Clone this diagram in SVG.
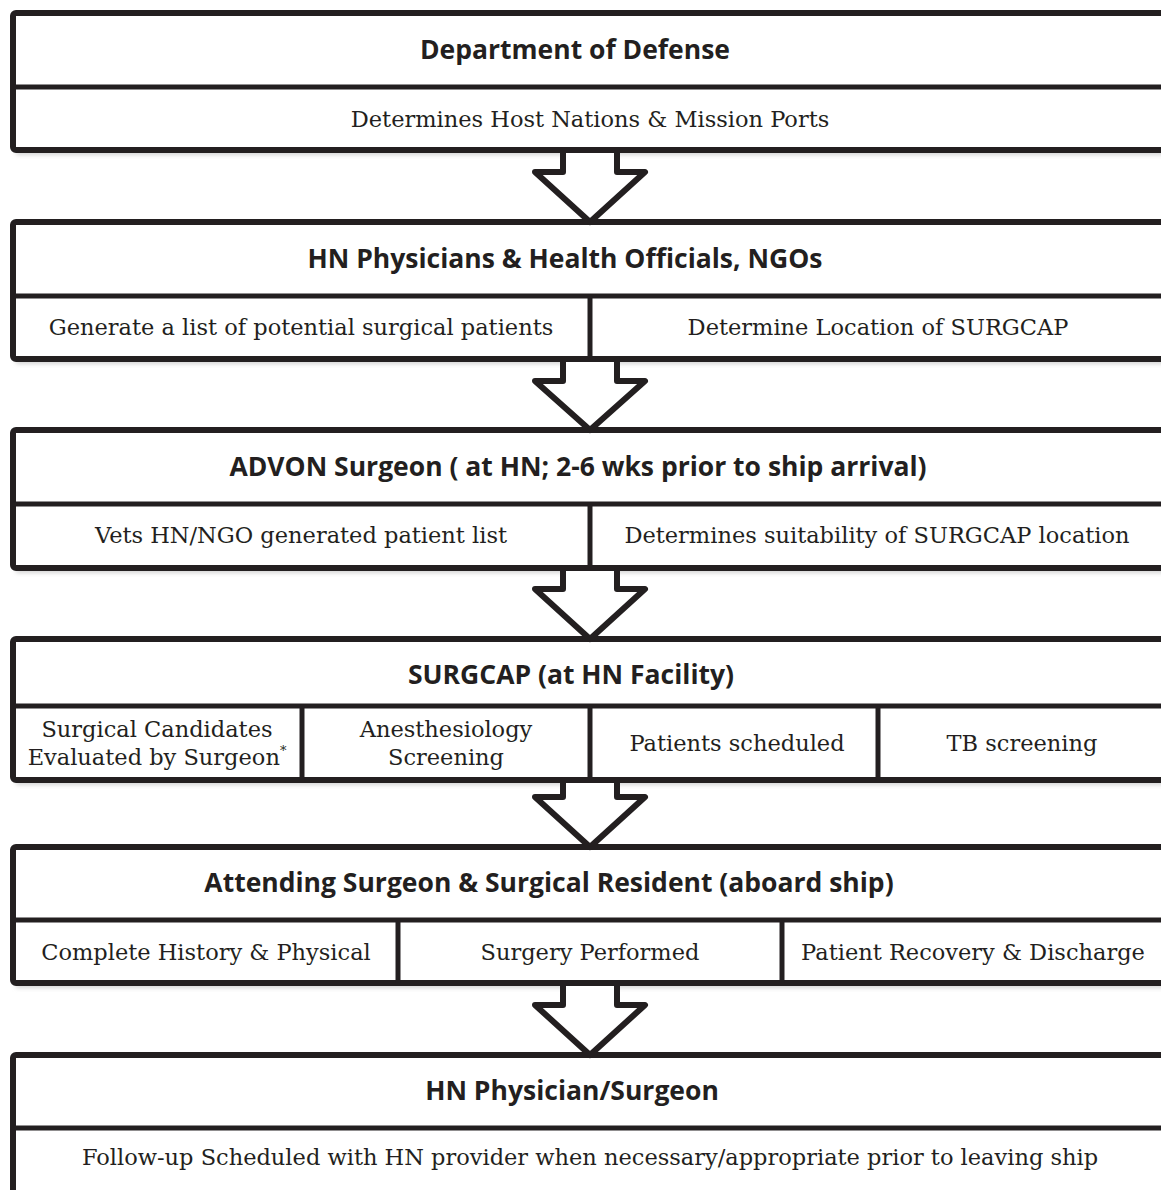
<svg xmlns="http://www.w3.org/2000/svg" width="1161" height="1190" viewBox="0 0 1161 1190">
<style>
.box{fill:#fff;stroke:#231f20;stroke-width:6;}
.div{stroke:#231f20;stroke-width:5;fill:none;}
.sh{fill:#d4d4d4;}
.arrow{fill:#fff;stroke:#231f20;stroke-width:6;stroke-linejoin:round;}
.h{font-family:"Open Sans","Liberation Sans",sans-serif;font-weight:700;font-size:26.5px;fill:#231f20;text-anchor:middle;}
.t{font-family:"DejaVu Serif","Liberation Serif",serif;font-size:22.5px;fill:#231f20;text-anchor:middle;}
</style>
<defs>
<filter id="blur" x="-5%" y="-20%" width="110%" height="140%"><feGaussianBlur stdDeviation="2"/></filter>
</defs>
<rect width="1161" height="1190" fill="#fff"/>

<g id="node1">
<rect class="sh" x="16" y="17" width="1170" height="138" filter="url(#blur)"/>
<rect class="box" x="13" y="13" width="1170" height="137" rx="3"/>
<line class="div" x1="13" y1="87" x2="1183" y2="87"/>
<text class="h" x="575" y="59">Department of Defense</text>
<text class="t" x="590" y="127">Determines Host Nations &amp; Mission Ports</text>
</g>

<g id="node2">
<rect class="sh" x="16" y="226" width="1170" height="138" filter="url(#blur)"/>
<rect class="box" x="13" y="222" width="1170" height="137" rx="3"/>
<line class="div" x1="13" y1="296" x2="1183" y2="296"/>
<line class="div" x1="590" y1="296" x2="590" y2="359"/>
<text class="h" x="565" y="268">HN Physicians &amp; Health Officials, NGOs</text>
<text class="t" x="301" y="335">Generate a list of potential surgical patients</text>
<text class="t" x="878" y="335">Determine Location of SURGCAP</text>
</g>

<g id="node3">
<rect class="sh" x="16" y="434" width="1170" height="139" filter="url(#blur)"/>
<rect class="box" x="13" y="430" width="1170" height="138" rx="3"/>
<line class="div" x1="13" y1="504" x2="1183" y2="504"/>
<line class="div" x1="590" y1="504" x2="590" y2="568"/>
<text class="h" x="578" y="476">ADVON Surgeon ( at HN; 2-6 wks prior to ship arrival)</text>
<text class="t" x="301" y="543">Vets HN/NGO generated patient list</text>
<text class="t" x="877" y="543">Determines suitability of SURGCAP location</text>
</g>

<g id="node4">
<rect class="sh" x="16" y="643" width="1170" height="142" filter="url(#blur)"/>
<rect class="box" x="13" y="639" width="1170" height="141" rx="3"/>
<line class="div" x1="13" y1="706" x2="1183" y2="706"/>
<line class="div" x1="302" y1="706" x2="302" y2="780"/>
<line class="div" x1="590" y1="706" x2="590" y2="780"/>
<line class="div" x1="878" y1="706" x2="878" y2="780"/>
<text class="h" x="571" y="684">SURGCAP (at HN Facility)</text>
<text class="t" x="157" y="737">Surgical Candidates</text>
<text class="t" x="157" y="765">Evaluated by Surgeon<tspan font-size="13" dy="-10">*</tspan></text>
<text class="t" x="446" y="737">Anesthesiology</text>
<text class="t" x="446" y="765">Screening</text>
<text class="t" x="737" y="751">Patients scheduled</text>
<text class="t" x="1022" y="751">TB screening</text>
</g>

<g id="node5">
<rect class="sh" x="16" y="851" width="1170" height="137" filter="url(#blur)"/>
<rect class="box" x="13" y="847" width="1170" height="136" rx="3"/>
<line class="div" x1="13" y1="920" x2="1183" y2="920"/>
<line class="div" x1="398" y1="920" x2="398" y2="983"/>
<line class="div" x1="782" y1="920" x2="782" y2="983"/>
<text class="h" x="549" y="892">Attending Surgeon &amp; Surgical Resident (aboard ship)</text>
<text class="t" x="206" y="960">Complete History &amp; Physical</text>
<text class="t" x="590" y="960">Surgery Performed</text>
<text class="t" x="973" y="960">Patient Recovery &amp; Discharge</text>
</g>

<g id="node6">
<rect class="sh" x="16" y="1059" width="1170" height="140" filter="url(#blur)"/>
<rect class="box" x="13" y="1055" width="1170" height="140" rx="3"/>
<line class="div" x1="13" y1="1128" x2="1183" y2="1128"/>
<text class="h" x="572" y="1100">HN Physician/Surgeon</text>
<text class="t" x="590" y="1165">Follow-up Scheduled with HN provider when necessary/appropriate prior to leaving ship</text>
</g>

<g id="connectors">
<polygon class="arrow" points="563,150 563,172 535,172 590,222 645,172 617,172 617,150"/>
<polygon class="arrow" points="563,359 563,381 535,381 590,430 645,381 617,381 617,359"/>
<polygon class="arrow" points="563,568 563,589 535,589 590,639 645,589 617,589 617,568"/>
<polygon class="arrow" points="563,780 563,797 535,797 590,847 645,797 617,797 617,780"/>
<polygon class="arrow" points="563,983 563,1005 535,1005 590,1055 645,1005 617,1005 617,983"/>
</g>
</svg>
